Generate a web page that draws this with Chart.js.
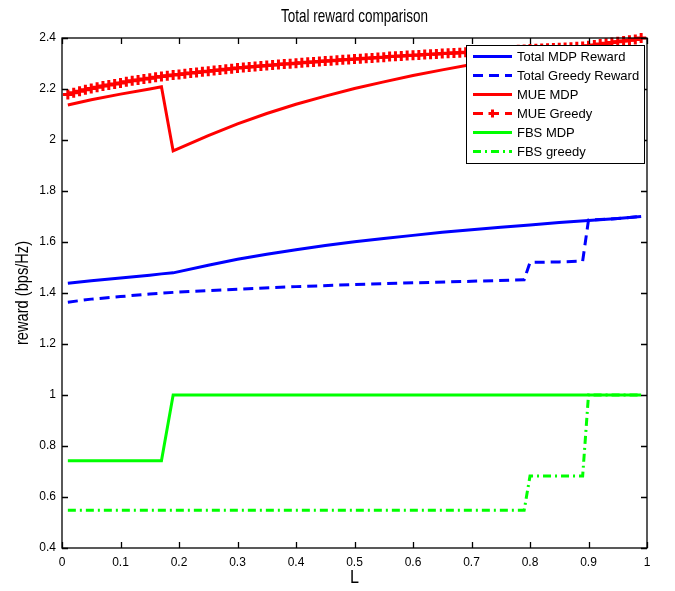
<!DOCTYPE html>
<html>
<head>
<meta charset="utf-8">
<script src="https://cdn.jsdelivr.net/npm/chart.js@4"></script>
<style>
  body { margin: 0; background: #fff; }
  canvas { display: block; }
</style>
</head>
<body>
<canvas id="chart" width="675" height="591"></canvas>
<script>
// x values used by the dense MUE Greedy curve (one marker per point)
const L = [0.01, 0.02, 0.03, 0.04, 0.05, 0.06, 0.07, 0.08, 0.09, 0.10,
    0.11, 0.12, 0.13, 0.14, 0.15, 0.16, 0.17, 0.18, 0.19, 0.20,
    0.21, 0.22, 0.23, 0.24, 0.25, 0.26, 0.27, 0.28, 0.29, 0.30,
    0.31, 0.32, 0.33, 0.34, 0.35, 0.36, 0.37, 0.38, 0.39, 0.40,
    0.41, 0.42, 0.43, 0.44, 0.45, 0.46, 0.47, 0.48, 0.49, 0.50,
    0.51, 0.52, 0.53, 0.54, 0.55, 0.56, 0.57, 0.58, 0.59, 0.60,
    0.61, 0.62, 0.63, 0.64, 0.65, 0.66, 0.67, 0.68, 0.69, 0.70,
    0.71, 0.72, 0.73, 0.74, 0.75, 0.76, 0.77, 0.78, 0.79, 0.80,
    0.81, 0.82, 0.83, 0.84, 0.85, 0.86, 0.87, 0.88, 0.89, 0.90,
    0.91, 0.92, 0.93, 0.94, 0.95, 0.96, 0.97, 0.98, 0.99];
const mueGreedy = [2.178, 2.185, 2.191, 2.197, 2.202, 2.207, 2.212, 2.216, 2.220, 2.224,
    2.228, 2.232, 2.235, 2.239, 2.242, 2.246, 2.249, 2.252, 2.255, 2.257,
    2.260, 2.263, 2.265, 2.268, 2.270, 2.273, 2.275, 2.277, 2.279, 2.282,
    2.284, 2.286, 2.288, 2.290, 2.292, 2.294, 2.296, 2.298, 2.299, 2.301,
    2.303, 2.305, 2.306, 2.308, 2.310, 2.311, 2.313, 2.315, 2.316, 2.318,
    2.319, 2.321, 2.322, 2.324, 2.325, 2.327, 2.328, 2.329, 2.331, 2.332,
    2.333, 2.335, 2.336, 2.337, 2.339, 2.340, 2.341, 2.342, 2.344, 2.345,
    2.346, 2.347, 2.348, 2.350, 2.351, 2.352, 2.353, 2.354, 2.355, 2.357,
    2.358, 2.359, 2.360, 2.361, 2.362, 2.363, 2.364, 2.366, 2.367, 2.370,
    2.373, 2.376, 2.379, 2.382, 2.385, 2.388, 2.391, 2.394, 2.400];

// MDP curves (smooth, read at fewer points)
const mdpL = [0.01, 0.05, 0.10, 0.15, 0.17, 0.19, 0.25, 0.30, 0.35, 0.40, 0.45,
    0.50, 0.55, 0.60, 0.65, 0.70, 0.75, 0.80, 0.85, 0.90, 0.95, 0.99];
const totalMdp = [1.438, 1.448, 1.459, 1.470, 1.475, 1.479, 1.509, 1.532, 1.552, 1.570, 1.586,
    1.601, 1.614, 1.626, 1.638, 1.648, 1.658, 1.667, 1.676, 1.684, 1.692, 1.700];
const mueMdp = [2.137, 2.158, 2.180, 2.200, 2.209, 1.957, 2.017, 2.063, 2.104, 2.140, 2.172,
    2.202, 2.228, 2.253, 2.275, 2.296, 2.316, 2.334, 2.351, 2.367, 2.385, 2.400];

const greedyL = [0.01, 0.05, 0.10, 0.15, 0.20, 0.30, 0.40, 0.50, 0.60, 0.70, 0.79,
    0.80, 0.85, 0.89, 0.90, 0.95, 0.99];
const totalGreedy = [1.364, 1.376, 1.386, 1.396, 1.404, 1.415, 1.425, 1.433, 1.440, 1.446, 1.452,
    1.520, 1.522, 1.525, 1.686, 1.692, 1.700];

const fbsMdpL = [0.01, 0.17, 0.19, 0.99];
const fbsMdp = [0.742, 0.742, 1.0, 1.0];
const fbsGreedyL = [0.01, 0.79, 0.80, 0.89, 0.90, 0.99];
const fbsGreedy = [0.548, 0.548, 0.682, 0.682, 1.0, 1.0];

const xTickLabels = ["0", "0.1", "0.2", "0.3", "0.4", "0.5", "0.6", "0.7", "0.8", "0.9", "1"];
const yTickLabels = ["0.4", "0.6", "0.8", "1", "1.2", "1.4", "1.6", "1.8", "2", "2.2", "2.4"];

const SANS = "'Liberation Sans', Arial, sans-serif";

function pts(xs, ys) {
    return xs.map((x, i) => ({ x: x, y: ys[i] }));
}

function line(label, xs, ys, color, dash) {
    return {
        label: label,
        data: pts(xs, ys),
        borderColor: color,
        backgroundColor: color,
        borderWidth: 3,
        borderDash: dash,
        pointRadius: 0,
        tension: 0,
    };
}

const datasets = [
    line("Total MDP Reward", mdpL, totalMdp, "#0000ff", []),
    line("Total Greedy Reward", greedyL, totalGreedy, "#0000ff", [10, 6]),
    line("MUE MDP", mdpL, mueMdp, "#ff0000", []),
    Object.assign(line("MUE Greedy", L, mueGreedy, "#ff0000", [10, 6]), {
        pointStyle: "cross",
        pointRadius: 5,
        pointBorderWidth: 3,
        pointBorderColor: "#ff0000",
        clip: false,
    }),
    line("FBS MDP", fbsMdpL, fbsMdp, "#00ff00", []),
    line("FBS greedy", fbsGreedyL, fbsGreedy, "#00ff00", [8, 4, 2, 4]),
];

// narrow text, like the condensed Helvetica of the original figure
function narrowText(ctx, text, x, y, size, sx, angle) {
    ctx.save();
    ctx.translate(x, y);
    if (angle) ctx.rotate(angle);
    ctx.scale(sx, 1);
    ctx.fillStyle = "#000";
    ctx.font = size + "px " + SANS;
    ctx.textAlign = "center";
    ctx.textBaseline = "middle";
    ctx.fillText(text, 0, 0);
    ctx.restore();
}

// box around the plot with inward ticks on all sides
const frame = {
    id: "frame",
    afterDatasetsDraw(chart) {
        const { ctx, chartArea: a, scales } = chart;
        ctx.save();
        ctx.strokeStyle = "#000";
        ctx.lineWidth = 1.3;
        ctx.strokeRect(a.left, a.top, a.right - a.left, a.bottom - a.top);
        ctx.beginPath();
        scales.x.ticks.forEach((t) => {
            const px = Math.round(scales.x.getPixelForValue(t.value)) + 0.5;
            ctx.moveTo(px, a.bottom); ctx.lineTo(px, a.bottom - 6);
            ctx.moveTo(px, a.top); ctx.lineTo(px, a.top + 6);
        });
        scales.y.ticks.forEach((t) => {
            const py = Math.round(scales.y.getPixelForValue(t.value)) + 0.5;
            ctx.moveTo(a.left, py); ctx.lineTo(a.left + 6, py);
            ctx.moveTo(a.right, py); ctx.lineTo(a.right - 6, py);
        });
        ctx.stroke();
        ctx.restore();
    },
};

// title and axis titles
const titles = {
    id: "titles",
    afterDraw(chart) {
        const { ctx, chartArea: a } = chart;
        const cx = (a.left + a.right) / 2;
        narrowText(ctx, "Total reward comparison", cx, 17, 19, 0.71, 0);
        narrowText(ctx, "L", cx, 578, 19, 0.85, 0);
        narrowText(ctx, "reward (bps/Hz)", 23, (a.top + a.bottom) / 2, 19, 0.77, -Math.PI / 2);
    },
};

// MATLAB-like legend box in the upper right corner
const legendBox = {
    id: "legendBox",
    afterDraw(chart) {
        const { ctx, chartArea: a } = chart;
        const rowH = 19;
        const w = 178;
        const x0 = a.right - 181;
        const y0 = a.top + 7;
        const h = rowH * chart.data.datasets.length + 4;
        ctx.save();
        ctx.fillStyle = "#fff";
        ctx.fillRect(x0, y0, w, h);
        ctx.strokeStyle = "#000";
        ctx.lineWidth = 1;
        ctx.strokeRect(x0 + 0.5, y0 + 0.5, w, h);
        chart.data.datasets.forEach((ds, i) => {
            const y = y0 + 11.5 + i * rowH;
            ctx.strokeStyle = ds.borderColor;
            ctx.lineWidth = ds.borderWidth;
            ctx.setLineDash(ds.borderDash || []);
            ctx.beginPath();
            ctx.moveTo(x0 + 7, y);
            ctx.lineTo(x0 + 46, y);
            ctx.stroke();
            ctx.setLineDash([]);
            if (ds.pointStyle === "cross") {
                const cx = x0 + 26.5;
                const r = 4;
                ctx.lineWidth = ds.pointBorderWidth;
                ctx.beginPath();
                ctx.moveTo(cx - r, y); ctx.lineTo(cx + r, y);
                ctx.moveTo(cx, y - r); ctx.lineTo(cx, y + r);
                ctx.stroke();
            }
            ctx.fillStyle = "#000";
            ctx.font = "13px " + SANS;
            ctx.textBaseline = "middle";
            ctx.fillText(ds.label, x0 + 51, y + 0.5);
        });
        ctx.restore();
    },
};

const ctx = document.getElementById("chart").getContext("2d");
const chart = new Chart(ctx, {
    type: "line",
    data: { datasets: datasets },
    options: {
        responsive: false,
        animation: false,
        layout: { padding: { top: 38, right: 28, left: 0, bottom: 0 } },
        plugins: {
            legend: { display: false },
            title: { display: false },
            tooltip: { enabled: false },
        },
        scales: {
            x: {
                type: "linear",
                min: 0,
                max: 1,
                grid: { display: false, drawTicks: false },
                border: { display: false },
                ticks: {
                    stepSize: 0.1,
                    padding: 7,
                    color: "#000",
                    font: { family: SANS, size: 12 },
                    maxRotation: 0,
                    callback: (v, i) => xTickLabels[i],
                },
                afterFit: (s) => { s.height = 43; },
            },
            y: {
                min: 0.4,
                max: 2.4,
                grid: { display: false, drawTicks: false },
                border: { display: false },
                ticks: {
                    stepSize: 0.2,
                    padding: 6,
                    color: "#000",
                    font: { family: SANS, size: 12 },
                    callback: (v, i) => yTickLabels[i],
                },
                afterFit: (s) => { s.width = 62; },
            },
        },
    },
    plugins: [frame, titles, legendBox],
});
</script>
</body>
</html>
